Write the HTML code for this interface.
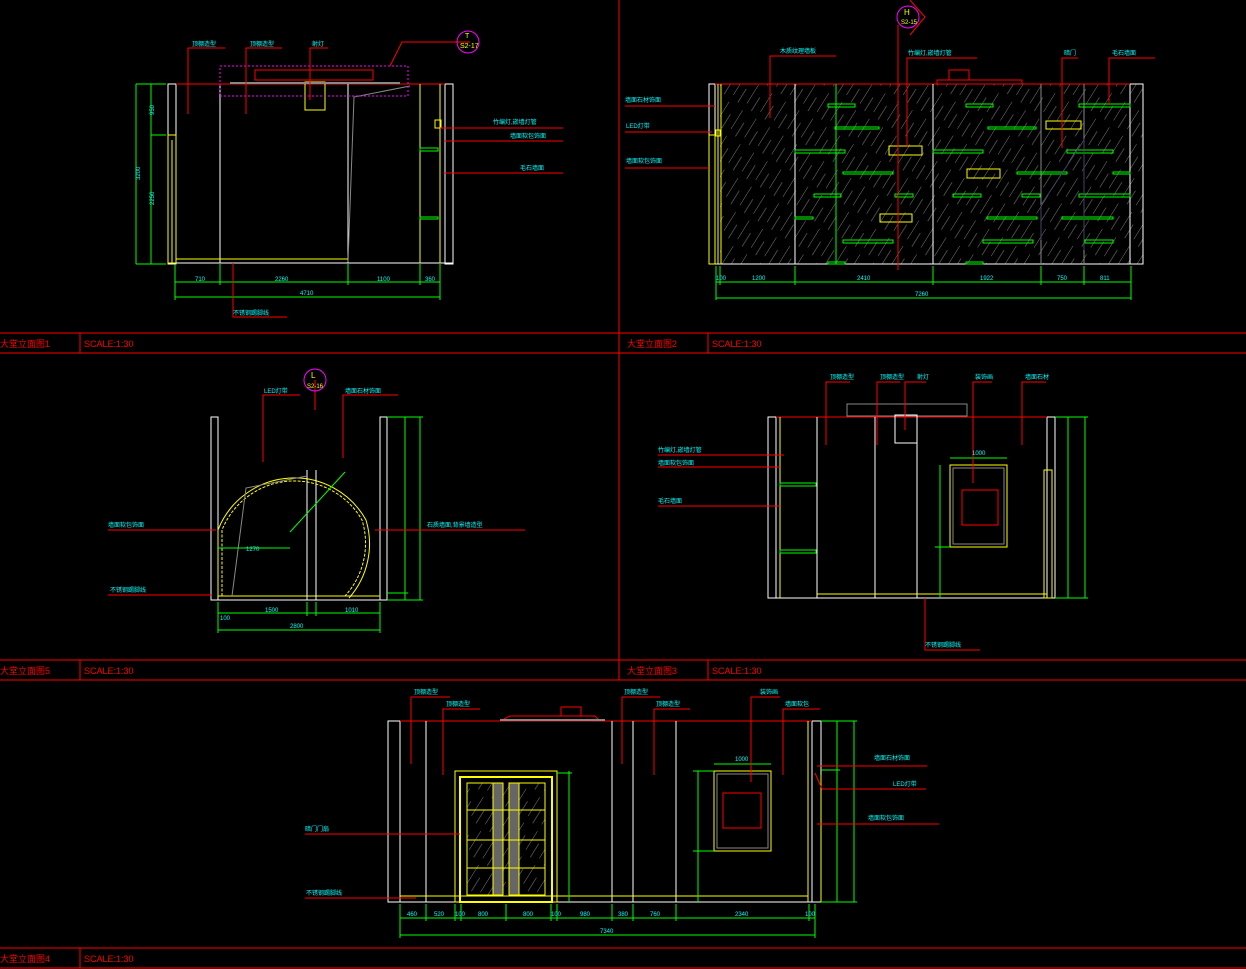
<!DOCTYPE html>
<html><head><meta charset="utf-8"><style>
html,body{margin:0;padding:0;background:#000;width:1246px;height:969px;overflow:hidden}
svg{display:block}
text{font-family:"Liberation Sans","Noto Sans CJK SC",sans-serif}
.c{fill:#0ff;font-size:6px}
.r{fill:#f00;font-size:9px}
</style></head><body>
<svg width="1246" height="969" viewBox="0 0 1246 969" xmlns="http://www.w3.org/2000/svg">
<defs>
<pattern id="h" width="16" height="30" patternUnits="userSpaceOnUse" patternTransform="rotate(32)">
<line x1="0" y1="0" x2="0" y2="22" stroke="#888" stroke-width="0.9"/>
<line x1="8" y1="10" x2="8" y2="26" stroke="#666" stroke-width="0.7"/>
</pattern>
</defs>
<rect width="1246" height="969" fill="#000"/>
<g stroke="#f00" stroke-width="1" fill="none">
<line x1="0" y1="333" x2="1246" y2="333"/><line x1="0" y1="353" x2="1246" y2="353"/>
<line x1="0" y1="660" x2="1246" y2="660"/><line x1="0" y1="680" x2="1246" y2="680"/>
<line x1="0" y1="948" x2="1246" y2="948"/><line x1="0" y1="968" x2="1246" y2="968"/>
<line x1="619" y1="0" x2="619" y2="680"/>
<line x1="80" y1="333" x2="80" y2="353"/><line x1="708" y1="333" x2="708" y2="353"/>
<line x1="80" y1="660" x2="80" y2="680"/><line x1="708" y1="660" x2="708" y2="680"/>
<line x1="80" y1="948" x2="80" y2="968"/>
</g>
<text class="r" x="0" y="347">大堂立面图1</text><text class="r" x="84" y="347">SCALE:1:30</text>
<text class="r" x="627" y="347">大堂立面图2</text><text class="r" x="712" y="347">SCALE:1:30</text>
<text class="r" x="0" y="674">大堂立面图5</text><text class="r" x="84" y="674">SCALE:1:30</text>
<text class="r" x="627" y="674">大堂立面图3</text><text class="r" x="712" y="674">SCALE:1:30</text>
<text class="r" x="0" y="962">大堂立面图4</text><text class="r" x="84" y="962">SCALE:1:30</text>

<g fill="none" stroke-width="1">
<rect x="168" y="84" width="8" height="180" stroke="#fff"/>
<rect x="445" y="84" width="8" height="180" stroke="#fff"/>
<line x1="168" y1="263" x2="453" y2="263" stroke="#fff"/>
<line x1="176" y1="84" x2="445" y2="84" stroke="#f00"/>
<line x1="220" y1="84" x2="220" y2="263" stroke="#fff"/>
<line x1="348" y1="84" x2="348" y2="263" stroke="#fff"/>
<polyline points="348,262 354,97 410,86" stroke="#888"/>
<line x1="420" y1="84" x2="420" y2="263" stroke="#ff0"/>
<line x1="440" y1="84" x2="440" y2="263" stroke="#ff0"/>
<line x1="176" y1="259" x2="348" y2="259" stroke="#ff0"/>
<rect x="168" y="135" width="8" height="128" stroke="#ff0"/>
<line x1="172" y1="140" x2="172" y2="263" stroke="#ff0"/>
<rect x="305" y="82" width="20" height="28" stroke="#ff0"/>
<rect x="220" y="66" width="188" height="30" stroke="#f0f" stroke-dasharray="2,2"/>
<rect x="255" y="70" width="118" height="10" stroke="#f00"/>
<line x1="230" y1="83" x2="400" y2="83" stroke="#888" stroke-width="2"/>
<rect x="420" y="148" width="18" height="3" stroke="#0f0"/><rect x="420" y="217" width="18" height="2" stroke="#0f0"/>
<rect x="435" y="120" width="6" height="8" stroke="#ff0"/>
<g stroke="#0f0">
<line x1="136" y1="84" x2="166" y2="84"/><line x1="136" y1="264" x2="166" y2="264"/>
<line x1="136" y1="84" x2="136" y2="264"/><line x1="151" y1="84" x2="151" y2="264"/><line x1="151" y1="135" x2="166" y2="135"/>
<line x1="175" y1="282" x2="440" y2="282"/><line x1="175" y1="297" x2="440" y2="297"/>
<line x1="175" y1="264" x2="175" y2="300"/><line x1="220" y1="264" x2="220" y2="285"/><line x1="348" y1="264" x2="348" y2="285"/><line x1="420" y1="264" x2="420" y2="285"/><line x1="440" y1="264" x2="440" y2="300"/>
</g>
<g stroke="#f00">
<polyline points="188,114 188,48 225,48"/><polyline points="246,114 246,48 282,48"/><polyline points="310,100 310,48 328,48"/>
<polyline points="390,66 402,42 470,42"/>
<polyline points="440,128 563,128"/><line x1="444" y1="141" x2="563" y2="141"/><line x1="444" y1="173" x2="563" y2="173"/>
<polyline points="233,263 233,317 287,317"/>
</g>
<circle cx="468" cy="42" r="11" stroke="#f0f"/>
</g>
<text class="c" x="192" y="46">顶棚造型</text><text class="c" x="250" y="46">顶棚造型</text><text class="c" x="312" y="46">射灯</text>
<text x="460" y="48" fill="#ff0" font-size="7">S2-17</text><text x="465" y="38" fill="#ff0" font-size="7">T</text>
<text class="c" x="493" y="124">竹编灯,嵌墙灯管</text><text class="c" x="510" y="138">墙面软包饰面</text><text class="c" x="520" y="170">毛石墙面</text>
<text class="c" x="233" y="315">不锈钢踢脚线</text>
<text class="c" x="195" y="281">710</text><text class="c" x="275" y="281">2260</text><text class="c" x="377" y="281">1100</text><text class="c" x="425" y="281">360</text><text class="c" x="300" y="295">4710</text>
<text class="c" x="140" y="180" transform="rotate(-90 140 180)">3200</text><text class="c" x="154" y="115" transform="rotate(-90 154 115)">950</text><text class="c" x="154" y="205" transform="rotate(-90 154 205)">2250</text>

<rect x="720" y="84" width="423" height="180" fill="url(#h)"/>
<g fill="none" stroke-width="1">
<rect x="709" y="84" width="6" height="180" stroke="#fff"/>
<rect x="1130" y="84" width="13" height="180" stroke="#fff"/>
<line x1="715" y1="264" x2="1143" y2="264" stroke="#fff"/>
<line x1="715" y1="84" x2="1130" y2="84" stroke="#f00"/>
<rect x="709" y="135" width="6" height="129" stroke="#ff0"/>
<line x1="718" y1="84" x2="718" y2="264" stroke="#ff0"/><line x1="721" y1="84" x2="721" y2="264" stroke="#ff0"/>
<line x1="795" y1="84" x2="795" y2="264" stroke="#fff"/><line x1="933" y1="84" x2="933" y2="264" stroke="#fff"/>
<line x1="1041" y1="84" x2="1041" y2="264" stroke="#888"/><line x1="1084" y1="84" x2="1084" y2="264" stroke="#888"/>
<polyline points="937,84 937,80 1022,80 1022,84" stroke="#f00"/><rect x="949" y="70" width="20" height="10" stroke="#f00"/>
<g stroke="#0f0">
<rect x="828" y="104" width="27" height="3"/><rect x="966" y="104" width="27" height="3"/><rect x="1079" y="104" width="51" height="3"/>
<rect x="835" y="127" width="44" height="2"/><rect x="988" y="127" width="48" height="2"/>
<rect x="795" y="150" width="50" height="3"/><rect x="933" y="150" width="50" height="3"/><rect x="1067" y="150" width="46" height="3"/>
<rect x="843" y="172" width="50" height="2"/><rect x="1017" y="172" width="50" height="2"/><rect x="1113" y="172" width="17" height="2"/>
<rect x="814" y="194" width="27" height="3"/><rect x="895" y="194" width="18" height="3"/><rect x="953" y="194" width="28" height="3"/><rect x="1022" y="194" width="18" height="3"/><rect x="1079" y="194" width="51" height="3"/>
<rect x="795" y="217" width="18" height="2"/><rect x="987" y="217" width="50" height="2"/><rect x="1062" y="217" width="51" height="2"/>
<rect x="843" y="240" width="50" height="3"/><rect x="983" y="240" width="50" height="3"/><rect x="1085" y="240" width="28" height="3"/>
<rect x="828" y="262" width="17" height="2"/><rect x="966" y="262" width="17" height="2"/>
<line x1="836" y1="84" x2="836" y2="264"/>
<line x1="716" y1="282" x2="1131" y2="282"/><line x1="716" y1="298" x2="1131" y2="298"/>
<line x1="716" y1="266" x2="716" y2="300"/><line x1="720" y1="266" x2="720" y2="285"/><line x1="795" y1="266" x2="795" y2="285"/><line x1="933" y1="266" x2="933" y2="285"/><line x1="1041" y1="266" x2="1041" y2="285"/><line x1="1084" y1="266" x2="1084" y2="285"/><line x1="1131" y1="266" x2="1131" y2="300"/>
</g>
<g stroke="#ff0"><rect x="889" y="146" width="33" height="9"/><rect x="967" y="169" width="33" height="9"/><rect x="1046" y="121" width="35" height="8"/><rect x="880" y="214" width="32" height="8"/><rect x="716" y="130" width="4" height="6"/></g>
<polyline points="1041,240 1041,205 1084,140 1084,250" stroke="#446"/>
<g stroke="#f00">
<line x1="898" y1="25" x2="898" y2="270"/><polyline points="770,118 770,56 836,56"/><polyline points="907,147 907,58 977,58"/><polyline points="1062,148 1062,58 1078,58"/><polyline points="1109,105 1109,58 1155,58"/>
<line x1="625" y1="106" x2="715" y2="106"/><line x1="625" y1="132" x2="712" y2="132"/><line x1="625" y1="168" x2="709" y2="168"/>
<polyline points="910,0 925,17 910,35"/>
</g>
<circle cx="908" cy="17" r="11" stroke="#f0f"/>
</g>
<text x="904" y="15" fill="#ff0" font-size="8">H</text><text x="901" y="24" fill="#ff0" font-size="6">S2-15</text>
<text class="c" x="780" y="53">木质纹理墙板</text><text class="c" x="908" y="55">竹编灯,嵌墙灯管</text><text class="c" x="1064" y="55">暗门</text><text class="c" x="1112" y="55">毛石墙面</text>
<text class="c" x="625" y="102">墙面石材饰面</text><text class="c" x="626" y="128">LED灯带</text><text class="c" x="626" y="163">墙面软包饰面</text>
<text class="c" x="716" y="280">100</text><text class="c" x="752" y="280">1200</text><text class="c" x="857" y="280">2410</text><text class="c" x="980" y="280">1922</text><text class="c" x="1057" y="280">750</text><text class="c" x="1100" y="280">811</text><text class="c" x="915" y="296">7260</text>

<g fill="none" stroke-width="1">
<rect x="211" y="417" width="7" height="183" stroke="#fff"/><rect x="380" y="417" width="7" height="183" stroke="#fff"/>
<line x1="211" y1="600" x2="387" y2="600" stroke="#fff"/>
<path d="M222,596 L222,530 A78,78 0 0 1 362,520 A78,78 0 0 1 345,596" stroke="#ff0" stroke-dasharray="3,1.5"/>
<path d="M218,596 L218,530 A82,82 0 0 1 366,520 A82,82 0 0 1 349,598" stroke="#ff0"/>
<line x1="218" y1="596" x2="380" y2="596" stroke="#ff0"/>
<line x1="307" y1="470" x2="307" y2="600" stroke="#fff"/><line x1="316" y1="470" x2="316" y2="600" stroke="#fff"/>
<polyline points="232,596 246,488 307,476" stroke="#888"/>
<line x1="290" y1="532" x2="345" y2="472" stroke="#0f0"/><line x1="218" y1="548" x2="290" y2="548" stroke="#0f0"/>
<g stroke="#0f0">
<line x1="218" y1="613" x2="380" y2="613"/><line x1="218" y1="630" x2="380" y2="630"/><line x1="218" y1="602" x2="218" y2="633"/><line x1="307" y1="602" x2="307" y2="616"/><line x1="316" y1="602" x2="316" y2="616"/><line x1="380" y1="602" x2="380" y2="633"/>
<line x1="405" y1="417" x2="405" y2="600"/><line x1="420" y1="417" x2="420" y2="600"/><line x1="387" y1="417" x2="423" y2="417"/><line x1="387" y1="600" x2="423" y2="600"/><line x1="387" y1="593" x2="408" y2="593"/>
</g>
<g stroke="#f00">
<polyline points="263,462 263,395 300,395"/><polyline points="343,458 343,395 398,395"/><line x1="315" y1="380" x2="315" y2="410"/>
<line x1="108" y1="530" x2="216" y2="530"/><line x1="108" y1="595" x2="212" y2="595"/><line x1="375" y1="530" x2="525" y2="530"/>
</g>
<circle cx="315" cy="380" r="11" stroke="#f0f"/>
</g>
<text x="311" y="378" fill="#ff0" font-size="8">L</text><text x="307" y="388" fill="#ff0" font-size="6">S2-16</text>
<text class="c" x="264" y="393">LED灯带</text><text class="c" x="345" y="393">墙面石材饰面</text>
<text class="c" x="108" y="527">墙面软包饰面</text><text class="c" x="110" y="592">不锈钢踢脚线</text><text class="c" x="427" y="527">石质墙面,背景墙造型</text>
<text class="c" x="220" y="620">100</text><text class="c" x="265" y="612">1500</text><text class="c" x="345" y="612">1010</text><text class="c" x="290" y="628">2800</text><text class="c" x="246" y="551">1270</text>

<g fill="none" stroke-width="1">
<rect x="768" y="417" width="8" height="181" stroke="#fff"/><rect x="1047" y="417" width="8" height="181" stroke="#fff"/>
<line x1="768" y1="598" x2="1055" y2="598" stroke="#fff"/>
<line x1="776" y1="417" x2="1047" y2="417" stroke="#f00"/>
<rect x="847" y="404" width="120" height="12" stroke="#888"/>
<line x1="817" y1="417" x2="817" y2="598" stroke="#fff"/><line x1="875" y1="417" x2="875" y2="598" stroke="#fff"/><line x1="917" y1="417" x2="917" y2="598" stroke="#fff"/>
<rect x="895" y="415" width="22" height="28" stroke="#fff"/>
<line x1="780" y1="417" x2="780" y2="598" stroke="#ff0"/><line x1="817" y1="594" x2="1047" y2="594" stroke="#ff0"/>
<rect x="780" y="483" width="36" height="3" stroke="#0f0"/><rect x="780" y="550" width="36" height="3" stroke="#0f0"/>
<rect x="1044" y="470" width="8" height="128" stroke="#ff0"/>
<rect x="950" y="465" width="57" height="82" stroke="#ff0"/><rect x="953" y="468" width="51" height="76" stroke="#888"/>
<rect x="962" y="490" width="36" height="35" stroke="#f00"/>
<g stroke="#0f0"><line x1="1068" y1="417" x2="1068" y2="598"/><line x1="1085" y1="417" x2="1085" y2="598"/><line x1="1055" y1="417" x2="1088" y2="417"/><line x1="1055" y1="598" x2="1088" y2="598"/>
<line x1="950" y1="458" x2="1007" y2="458"/><line x1="940" y1="465" x2="940" y2="598"/><line x1="935" y1="547" x2="950" y2="547"/></g>
<g stroke="#f00"><polyline points="826,445 826,382 850,382"/><polyline points="877,445 877,382 900,382"/><polyline points="905,430 905,382 926,382"/><polyline points="973,483 973,382 992,382"/><polyline points="1022,445 1022,382 1046,382"/>
<line x1="658" y1="455" x2="784" y2="455"/><line x1="658" y1="467" x2="780" y2="467"/><line x1="658" y1="506" x2="780" y2="506"/>
<polyline points="925,598 925,650 980,650"/></g>
</g>
<text class="c" x="830" y="379">顶棚造型</text><text class="c" x="880" y="379">顶棚造型</text><text class="c" x="917" y="379">射灯</text><text class="c" x="975" y="379">装饰画</text><text class="c" x="1025" y="379">墙面石材</text>
<text class="c" x="658" y="452">竹编灯,嵌墙灯管</text><text class="c" x="658" y="465">墙面软包饰面</text><text class="c" x="658" y="503">毛石墙面</text><text class="c" x="925" y="647">不锈钢踢脚线</text>
<text class="c" x="972" y="455">1000</text>

<g fill="none" stroke-width="1">
<rect x="388" y="721" width="12" height="181" stroke="#fff"/><rect x="812" y="721" width="9" height="181" stroke="#fff"/>
<line x1="388" y1="902" x2="821" y2="902" stroke="#fff"/>
<line x1="400" y1="721" x2="812" y2="721" stroke="#f00"/>
<polyline points="500,721 510,716 595,716 600,721" stroke="#f00"/><rect x="561" y="707" width="20" height="9" stroke="#f00"/>
<line x1="500" y1="720" x2="605" y2="720" stroke="#888" stroke-width="2"/>
<line x1="426" y1="721" x2="426" y2="902" stroke="#fff"/><line x1="612" y1="721" x2="612" y2="902" stroke="#fff"/><line x1="633" y1="721" x2="633" y2="902" stroke="#fff"/><line x1="676" y1="721" x2="676" y2="902" stroke="#fff"/>
<line x1="808" y1="721" x2="808" y2="902" stroke="#ff0"/><line x1="821" y1="775" x2="821" y2="902" stroke="#ff0"/>
<line x1="400" y1="896" x2="808" y2="896" stroke="#ff0"/>
<rect x="467" y="783" width="78" height="112" fill="url(#h)" stroke="none"/>
<rect x="455" y="771" width="102" height="131" stroke="#ff0"/><rect x="460" y="777" width="92" height="125" stroke="#ff0" stroke-width="2"/>
<rect x="467" y="783" width="34" height="112" stroke="#ff0"/><rect x="509" y="783" width="36" height="112" stroke="#ff0"/>
<rect x="493" y="783" width="10" height="112" fill="#666" stroke="#ff0"/><rect x="509" y="783" width="10" height="112" fill="#666" stroke="#ff0"/>
<g stroke="#ff0"><line x1="467" y1="810" x2="545" y2="810"/><line x1="467" y1="840" x2="545" y2="840"/><line x1="467" y1="868" x2="545" y2="868"/></g>
<rect x="714" y="771" width="57" height="80" stroke="#ff0"/><rect x="717" y="774" width="51" height="74" stroke="#888"/>
<rect x="723" y="793" width="38" height="35" stroke="#f00"/>
<g stroke="#0f0"><line x1="714" y1="764" x2="771" y2="764"/><line x1="698" y1="771" x2="698" y2="902"/><line x1="693" y1="851" x2="714" y2="851"/><line x1="693" y1="771" x2="714" y2="771"/>
<line x1="569" y1="771" x2="569" y2="902"/><line x1="557" y1="773" x2="572" y2="773"/>
<line x1="837" y1="721" x2="837" y2="902"/><line x1="854" y1="721" x2="854" y2="902"/><line x1="821" y1="721" x2="857" y2="721"/><line x1="821" y1="902" x2="857" y2="902"/><line x1="821" y1="770" x2="840" y2="770"/>
<line x1="400" y1="918" x2="815" y2="918"/><line x1="400" y1="935" x2="815" y2="935"/><line x1="400" y1="904" x2="400" y2="938"/><line x1="815" y1="904" x2="815" y2="938"/>
<line x1="426" y1="904" x2="426" y2="921"/><line x1="455" y1="904" x2="455" y2="921"/><line x1="461" y1="904" x2="461" y2="921"/><line x1="506" y1="904" x2="506" y2="921"/><line x1="551" y1="904" x2="551" y2="921"/><line x1="557" y1="904" x2="557" y2="921"/><line x1="612" y1="904" x2="612" y2="921"/><line x1="633" y1="904" x2="633" y2="921"/><line x1="676" y1="904" x2="676" y2="921"/><line x1="809" y1="904" x2="809" y2="921"/></g>
<g stroke="#f00"><polyline points="411,764 411,697 450,697"/><polyline points="443,775 443,709 480,709"/><polyline points="622,764 622,697 660,697"/><polyline points="654,775 654,709 690,709"/><polyline points="751,782 751,697 780,697"/><polyline points="783,775 783,709 820,709"/>
<line x1="817" y1="766" x2="927" y2="766"/><polyline points="815,773 822,789 926,789"/><line x1="817" y1="824" x2="939" y2="824"/>
<line x1="305" y1="834" x2="460" y2="834"/><line x1="305" y1="898" x2="416" y2="898"/></g>
</g>
<text class="c" x="414" y="694">顶棚造型</text><text class="c" x="446" y="706">顶棚造型</text><text class="c" x="624" y="694">顶棚造型</text><text class="c" x="656" y="706">顶棚造型</text><text class="c" x="760" y="694">装饰画</text><text class="c" x="785" y="706">墙面软包</text>
<text class="c" x="874" y="760">墙面石材饰面</text><text class="c" x="893" y="786">LED灯带</text><text class="c" x="868" y="820">墙面软包饰面</text>
<text class="c" x="305" y="831">暗门门扇</text><text class="c" x="306" y="895">不锈钢踢脚线</text>
<text class="c" x="407" y="916">460</text><text class="c" x="434" y="916">520</text><text class="c" x="455" y="916">100</text><text class="c" x="478" y="916">800</text><text class="c" x="523" y="916">800</text><text class="c" x="551" y="916">100</text><text class="c" x="580" y="916">980</text><text class="c" x="618" y="916">380</text><text class="c" x="650" y="916">760</text><text class="c" x="735" y="916">2340</text><text class="c" x="805" y="916">100</text>
<text class="c" x="600" y="933">7340</text><text class="c" x="735" y="761">1000</text>
</svg>
</body></html>
